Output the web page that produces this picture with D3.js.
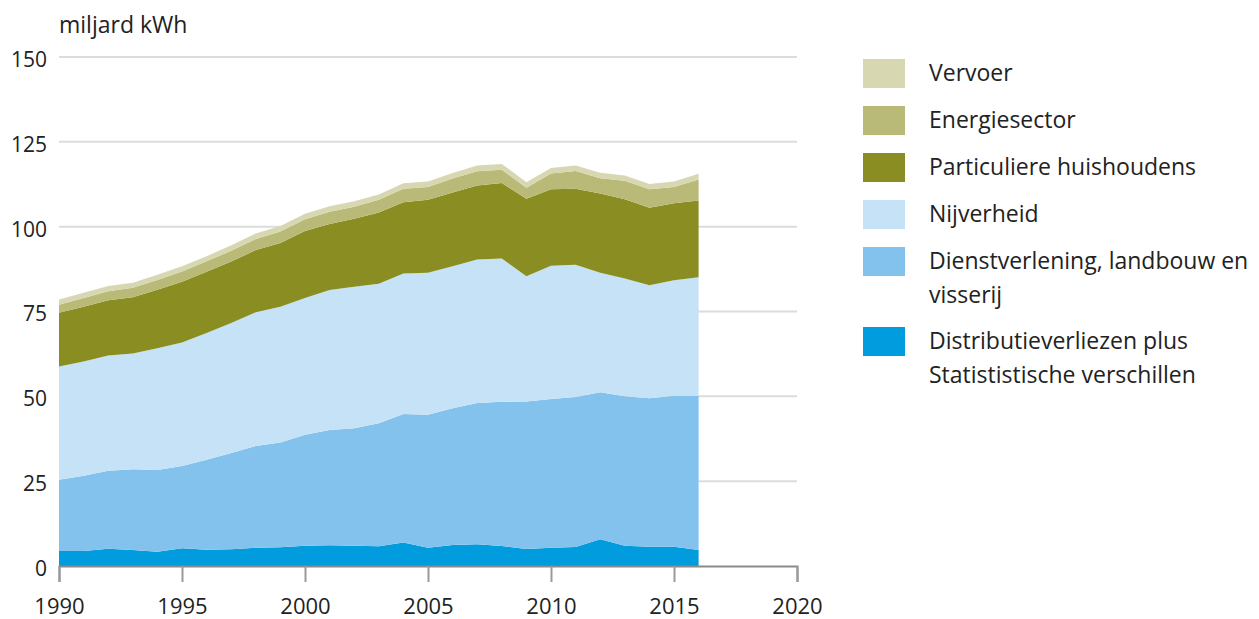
<!DOCTYPE html>
<html>
<head>
<meta charset="utf-8">
<script src="https://cdn.jsdelivr.net/npm/d3@7"></script>
<style>
  body { margin: 0; background: #fff; }
  text { font-family: "Open Sans", "Noto Sans", sans-serif; fill: #222; }
</style>
</head>
<body>
<svg width="1259" height="619"></svg>
<script>
(() => {

    var width = 1259;
    var height = 619;
    var margin = {top: 57, bottom: 53, left: 59, right: 462};

    // data (miljard kWh per jaar)
    var years = d3.range(1990, 2017);
    var distributie = [4.4, 4.4, 5.1, 4.7, 4.2, 5.2, 4.8, 4.9, 5.4, 5.5, 6.0, 6.1, 6.0, 5.8, 6.9, 5.4, 6.2, 6.4, 5.9, 5.0, 5.4, 5.6, 7.9, 6.0, 5.7, 5.7, 4.7];
    var dienstverlening = [21.0, 22.2, 23.0, 23.8, 24.1, 24.3, 26.5, 28.4, 30.0, 30.9, 32.7, 34.0, 34.6, 36.3, 37.9, 39.2, 40.3, 41.6, 42.5, 43.5, 43.8, 44.2, 43.3, 44.0, 43.7, 44.5, 45.5];
    var nijverheid = [33.4, 33.7, 33.9, 34.1, 35.9, 36.4, 37.4, 38.3, 39.4, 40.0, 40.3, 41.2, 41.7, 41.1, 41.4, 41.8, 41.8, 42.3, 42.2, 36.9, 39.3, 39.0, 35.2, 34.7, 33.3, 34.0, 34.9];
    var huishoudens = [15.8, 16.1, 16.3, 16.6, 17.2, 17.9, 18.0, 18.1, 18.3, 18.8, 19.7, 19.5, 20.0, 21.0, 21.0, 21.5, 21.8, 21.8, 22.3, 22.8, 22.5, 22.4, 23.4, 23.4, 22.9, 22.7, 22.6];
    var energiesector = [2.4, 2.6, 2.7, 2.8, 2.9, 3.0, 3.1, 3.2, 3.3, 3.4, 3.5, 3.6, 3.6, 3.7, 4.0, 3.8, 4.1, 4.2, 3.9, 3.3, 4.7, 5.2, 4.5, 5.4, 5.4, 4.8, 6.2];
    var vervoer = [1.5, 1.5, 1.5, 1.5, 1.5, 1.5, 1.5, 1.6, 1.6, 1.6, 1.6, 1.6, 1.6, 1.6, 1.6, 1.6, 1.6, 1.7, 1.7, 1.6, 1.6, 1.6, 1.6, 1.6, 1.6, 1.6, 1.7];

    var yTicks = [0, 25, 50, 75, 100, 125, 150];
    var xTicks = [1990, 1995, 2000, 2005, 2010, 2015, 2020];

    // stack order bottom -> top
    var keys = ['distributie', 'dienstverlening', 'nijverheid', 'huishoudens', 'energiesector', 'vervoer'];
    var colors = {
        distributie: '#009cdd',
        dienstverlening: '#84c2ee',
        nijverheid: '#c6e2f7',
        huishoudens: '#8a8e22',
        energiesector: '#b9ba77',
        vervoer: '#d7d7b2'
    };
    var legend = [
        {key: 'vervoer', lines: ['Vervoer']},
        {key: 'energiesector', lines: ['Energiesector']},
        {key: 'huishoudens', lines: ['Particuliere huishoudens']},
        {key: 'nijverheid', lines: ['Nijverheid']},
        {key: 'dienstverlening', lines: ['Dienstverlening, landbouw en', 'visserij']},
        {key: 'distributie', lines: ['Distributieverliezen plus', 'Statististische verschillen']}
    ];

    var table = years.map(function (y, i) {
        return {
            year: y,
            distributie: distributie[i],
            dienstverlening: dienstverlening[i],
            nijverheid: nijverheid[i],
            huishoudens: huishoudens[i],
            energiesector: energiesector[i],
            vervoer: vervoer[i]
        };
    });

    //scales
    var xScale = d3.scaleLinear()
        .domain([1990, 2020])
        .range([margin.left, width - margin.right]);
    var yScale = d3.scaleLinear()
        .domain([0, 150])
        .range([height - margin.bottom, margin.top]);

    var svg = d3.select('svg');

    // gridlines
    svg.append('g')
        .selectAll('line')
        .data(yTicks.slice(1))
        .enter().append('line')
        .attr('x1', xScale(1990))
        .attr('x2', xScale(2020))
        .attr('y1', d => yScale(d))
        .attr('y2', d => yScale(d))
        .attr('stroke', '#dcdcdc')
        .attr('stroke-width', 2);

    var series = d3.stack().keys(keys)(table);

    var area = d3.area()
        .x(d => xScale(d.data.year))
        .y0(d => yScale(d[0]))
        .y1(d => yScale(d[1]));

    svg.append('g')
        .selectAll('path')
        .data(series)
        .enter().append('path')
        .attr('d', area)
        .attr('fill', d => colors[d.key]);

    // x axis
    var xAxis = d3.axisBottom(xScale)
        .tickValues(xTicks)
        .tickFormat(d3.format('d'))
        .tickSize(16)
        .tickPadding(16);
    var gx = svg.append('g')
        .attr('transform', 'translate(0,' + yScale(0) + ')')
        .call(xAxis);
    gx.select('.domain').attr('stroke', '#8a8a8a').attr('stroke-width', 2);
    gx.selectAll('.tick line').attr('stroke', '#9a9a9a').attr('stroke-width', 2);
    gx.selectAll('.tick text')
        .attr('font-size', 22)
        .attr('fill', '#222')
        .style('font-family', '"Open Sans", sans-serif');

    // y axis labels
    var yAxis = d3.axisLeft(yScale)
        .tickValues(yTicks)
        .tickSize(0)
        .tickPadding(12);
    var gy = svg.append('g')
        .attr('transform', 'translate(' + margin.left + ',0)')
        .call(yAxis);
    gy.select('.domain').remove();
    gy.selectAll('.tick text')
        .attr('font-size', 21)
        .attr('fill', '#222')
        .attr('dy', '0.45em')
        .style('font-family', '"Open Sans", sans-serif');

    svg.append('text')
        .attr('x', margin.left)
        .attr('y', 33)
        .attr('font-size', 23)
        .text('miljard kWh');

    // legend
    var rowY = [59, 106, 153, 200, 247, 327];
    var lg = svg.append('g');
    legend.forEach(function (l, i) {
        lg.append('rect')
            .attr('x', 863)
            .attr('y', rowY[i])
            .attr('width', 42)
            .attr('height', 29)
            .attr('fill', colors[l.key]);
        l.lines.forEach(function (t, j) {
            lg.append('text')
                .attr('x', 929)
                .attr('y', rowY[i] + 22 + j * 34)
                .attr('font-size', 23)
                .text(t);
        });
    });

})();
</script>
</body>
</html>
